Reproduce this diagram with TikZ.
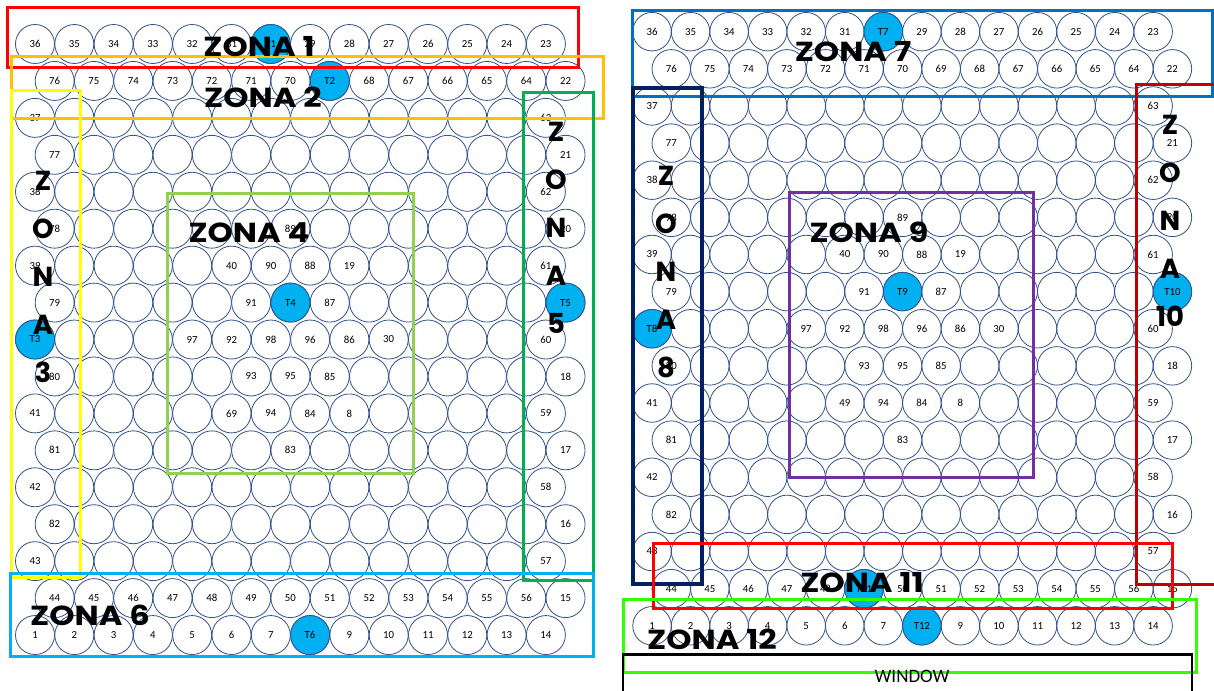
\documentclass[tikz,border=0pt]{standalone}
\usepackage{fontspec}
\setmainfont{Carlito}
\newfontfamily\zonefont{Poppins}
\definecolor{cellblue}{RGB}{47,82,143}
\definecolor{tblue}{RGB}{0,176,240}
\definecolor{zA}{RGB}{255,0,0}
\definecolor{zB}{RGB}{255,192,0}
\definecolor{zC}{RGB}{255,255,0}
\definecolor{zD}{RGB}{146,208,80}
\definecolor{zE}{RGB}{0,176,80}
\definecolor{zF}{RGB}{0,176,240}
\definecolor{zG}{RGB}{0,112,192}
\definecolor{zH}{RGB}{0,32,96}
\definecolor{zI}{RGB}{112,48,160}
\definecolor{zJ}{RGB}{192,0,0}
\definecolor{zK}{RGB}{255,0,0}
\definecolor{zL}{RGB}{51,255,0}
\newcommand\zs[1]{\scalebox{1.17}[1]{#1}}
\tikzset{
  cell/.style={circle, draw=cellblue, line width=0.8pt, minimum size=\csize, inner sep=0pt,
    font=\fontsize{10.8}{12}\selectfont},
  tcell/.style={cell, fill=tblue},
  zonebox/.style={line width=3pt},
  zlabel/.style={inner sep=0pt, font=\zonefont\bfseries\fontsize{27.5}{30}\selectfont},
  vlabel/.style={inner sep=0pt, align=center, font=\zonefont\bfseries\fontsize{27.5}{48}\selectfont},
}
\newcommand\cellrow[3]{%
  \foreach \lab [count=\i from 0] in {#3} {
    \node[cell] (#1#2-\i) at ({\pxA + mod(#2,2)*\pdx/2 + \i*\pdx}, {\pyA + #2*\pdy}) {\lab};
  }%
}
\begin{document}
\begin{tikzpicture}[x=1pt, y=-1pt]
\useasboundingbox (0,0) rectangle (1214,690);
% ---------------- left panel ----------------
\def\pxA{35}\def\pdx{39.3}\def\pyA{44}\def\pdy{36.94}\def\csize{39pt}
\cellrow{L}{0}{36,35,34,33,32,31,,29,28,27,26,25,24,23}
\cellrow{L}{1}{76,75,74,73,72,71,70,,68,67,66,65,64,22}
\cellrow{L}{2}{37,,,,,,,,,,,,,63}
\cellrow{L}{3}{77,,,,,,,,,,,,,21}
\cellrow{L}{4}{38,,,,,,,,,,,,,62}
\cellrow{L}{5}{78,,,,,,89,,,,,,,20}
\cellrow{L}{6}{39,,,,,40,90,88,19,,,,,61}
\cellrow{L}{7}{79,,,,,91,,87,,,,,,}
\cellrow{L}{8}{,,,,97,92,98,96,86,30,,,,60}
\cellrow{L}{9}{80,,,,,93,95,85,,,,,,18}
\cellrow{L}{10}{41,,,,,69,94,84,8,,,,,59}
\cellrow{L}{11}{81,,,,,,83,,,,,,,17}
\cellrow{L}{12}{42,,,,,,,,,,,,,58}
\cellrow{L}{13}{82,,,,,,,,,,,,,16}
\cellrow{L}{14}{43,,,,,,,,,,,,,57}
\cellrow{L}{15}{44,45,46,47,48,49,50,51,52,53,54,55,56,15}
\cellrow{L}{16}{1,2,3,4,5,6,7,,9,10,11,12,13,14}
\node[tcell] (T1) at (L0-6) {T1};
\node[tcell] (T2) at (L1-7) {T2};
\node[tcell] (T3) at (L8-0) {T3};
\node[tcell] (T4) at (L7-6) {T4};
\node[tcell] (T5) at (L7-13) {T5};
\node[tcell] (T6) at (L16-7) {T6};
% ---------------- right panel ----------------
\def\pxA{652}\def\pdx{38.55}\def\pyA{31.7}\def\pdy{37.13}\def\csize{38.5pt}
\cellrow{R}{0}{36,35,34,33,32,31,,29,28,27,26,25,24,23}
\cellrow{R}{1}{76,75,74,73,72,71,70,69,68,67,66,65,64,22}
\cellrow{R}{2}{37,,,,,,,,,,,,,63}
\cellrow{R}{3}{77,,,,,,,,,,,,,21}
\cellrow{R}{4}{38,,,,,,,,,,,,,62}
\cellrow{R}{5}{78,,,,,,89,,,,,,,20}
\cellrow{R}{6}{39,,,,,40,90,88,19,,,,,61}
\cellrow{R}{7}{79,,,,,91,,87,,,,,,}
\cellrow{R}{8}{,,,,97,92,98,96,86,30,,,,60}
\cellrow{R}{9}{80,,,,,93,95,85,,,,,,18}
\cellrow{R}{10}{41,,,,,49,94,84,8,,,,,59}
\cellrow{R}{11}{81,,,,,,83,,,,,,,17}
\cellrow{R}{12}{42,,,,,,,,,,,,,58}
\cellrow{R}{13}{82,,,,,,,,,,,,,16}
\cellrow{R}{14}{43,,,,,,,,,,,,,57}
\cellrow{R}{15}{44,45,46,47,48,,50,51,52,53,54,55,56,15}
\cellrow{R}{16}{1,2,3,4,5,6,7,,9,10,11,12,13,14}
\node[tcell] (T7) at (R0-6) {T7};
\node[tcell] (T8) at (R8-0) {T8};
\node[tcell] (T9) at (R7-6) {T9};
\node[tcell] (T10) at (R7-13) {T10};
\node[tcell] (T11) at (R15-5) {T11};
\node[tcell] (T12) at (R16-7) {T12};
% ---------------- zone boxes ----------------
\draw[zonebox, zA] (7,7.5) rectangle (578,68);
\draw[zonebox, zB] (11,57) rectangle (603,119);
\draw[zonebox, zC] (11,91) rectangle (80,577);
\draw[zonebox, zD] (167,193) rectangle (413,473);
\draw[zonebox, zE] (523,93) rectangle (593,580);
\draw[zonebox, zF] (10,573.5) rectangle (593,656);
\draw[zonebox, zG] (632.5,11) rectangle (1212,97);
\draw[zonebox, zH, line width=3.5pt] (633,88) rectangle (702,584);
\draw[zonebox, zI] (789,192) rectangle (1033,477);
\draw[zonebox, zJ] (1222,85) -- (1136,85) -- (1136,584) -- (1222,584);
\draw[zonebox, zK] (653,543) rectangle (1172,608);
\draw[zonebox, zL] (623,599.5) rectangle (1196,672);
\draw[line width=2.5pt, black] (623,692) -- (623,654.5) -- (1192,654.5) -- (1192,692);
\node[font=\fontsize{19}{22}\selectfont, inner sep=0pt] (win) at (912,676) {WINDOW};
% ---------------- zone labels ----------------
\node[zlabel] (z1) at (259,47) {\zs{ZONA 1}};
\node[zlabel] (z2) at (263,97) {\zs{ZONA 2}};
\node[vlabel] (z3) at (43,277) {Z\\O\\N\\A\\3};
\node[zlabel] (z4) at (249,233) {\zs{ZONA 4}};
\node[vlabel] (z5) at (556,228) {Z\\O\\N\\A\\5};
\node[zlabel] (z6) at (90,615) {\zs{ZONA 6}};
\node[zlabel] (z7) at (853,52) {\zs{ZONA 7}};
\node[vlabel] (z8) at (666,272.5) {Z\\O\\N\\A\\8};
\node[zlabel] (z9) at (869,232) {\zs{ZONA 9}};
\node[vlabel] (z10) at (1170,221) {Z\\O\\N\\A\\10};
\node[zlabel] (z11) at (862,583) {\zs{ZONA 11}};
\node[zlabel] (z12) at (712,639) {\zs{ZONA 12}};
\end{tikzpicture}
\end{document}
